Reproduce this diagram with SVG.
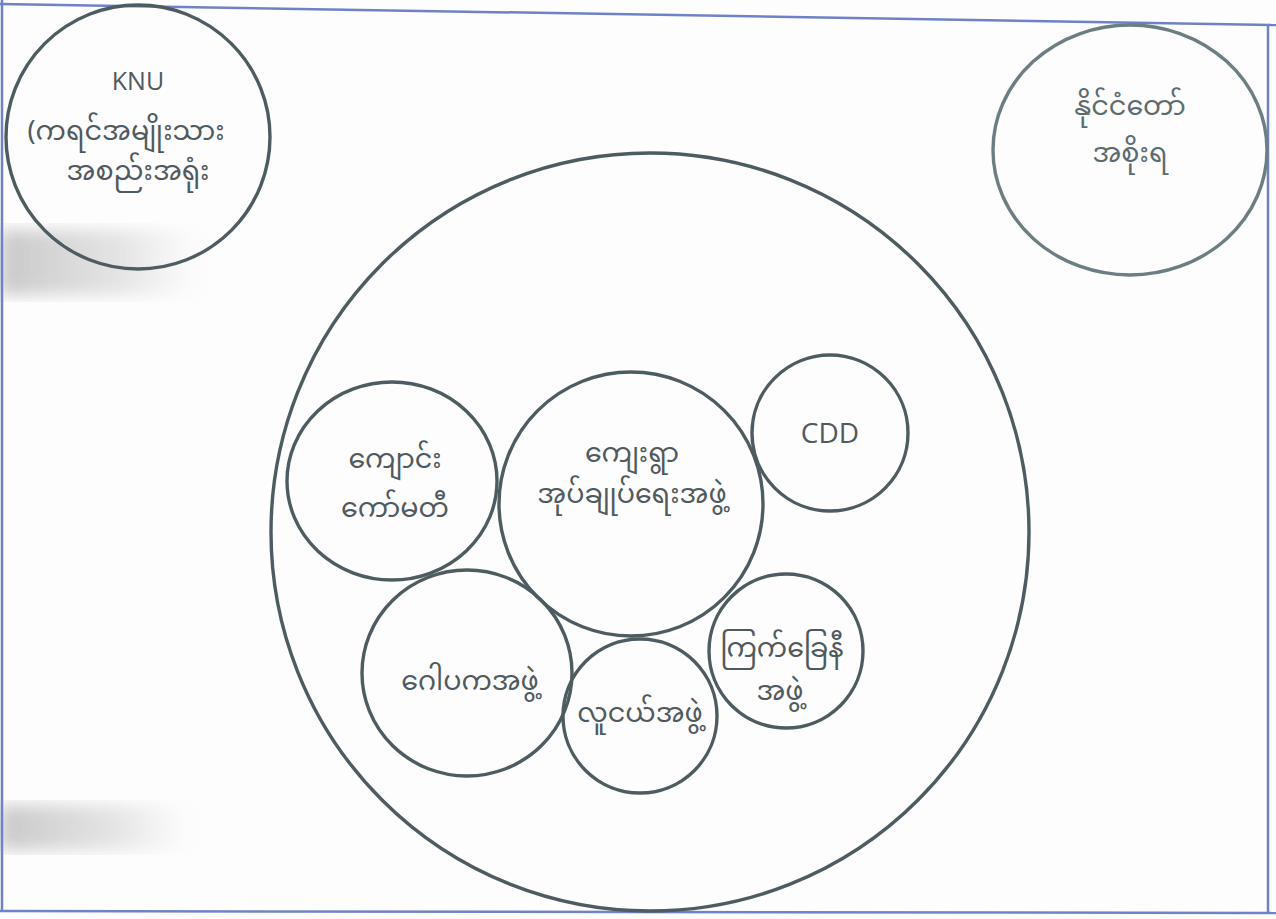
<svg xmlns="http://www.w3.org/2000/svg" width="1276" height="919" viewBox="0 0 1276 919">
<defs>
<style>
.c{fill:none;stroke:#4d5c60;stroke-width:3.4}
.cl{fill:none;stroke:#6b7f83;stroke-width:3.4}
.lat{font-family:"Open Sans","Noto Sans",sans-serif;fill:#50595d;text-anchor:middle}
.my{font-family:"Noto Sans Myanmar","Padauk","Myanmar Text","Noto Sans",sans-serif;font-size:27px;fill:#4f5a5e;text-anchor:middle}
.frame{stroke:#6f82c8;stroke-width:2.5;fill:none}
</style>
<linearGradient id="sm" x1="0" y1="0" x2="1" y2="0">
<stop offset="0" stop-color="#888" stop-opacity="0.45"/>
<stop offset="0.6" stop-color="#999" stop-opacity="0.25"/>
<stop offset="1" stop-color="#aaa" stop-opacity="0"/>
</linearGradient>
<filter id="bl"><feGaussianBlur stdDeviation="8"/></filter>
</defs>
<rect width="1276" height="919" fill="#fdfdfd"/>
<g id="scan">
<rect x="0" y="230" width="200" height="65" fill="url(#sm)" filter="url(#bl)"/>
<rect x="0" y="805" width="190" height="45" fill="url(#sm)" filter="url(#bl)"/>
<line class="frame" x1="0" y1="4" x2="1276" y2="25"/>
<line class="frame" x1="2" y1="0" x2="2" y2="912"/>
<line class="frame" x1="0" y1="911" x2="1276" y2="913"/>
<line class="frame" x1="1268" y1="24" x2="1268" y2="912"/>
</g>
<g id="knu">
<circle class="c" cx="138" cy="137" r="132"/>
<text class="lat" x="138" y="90" font-size="25">KNU</text>
<text class="my" x="126" y="140">(ကရင်အမျိုးသား</text>
<text class="my" x="138" y="180">အစည်းအရုံး</text>
</g>
<g id="gov">
<ellipse class="cl" cx="1130" cy="150" rx="137" ry="125"/>
<text class="my" x="1130" y="115" style="fill:#5b6c70">နိုင်ငံတော်</text>
<text class="my" x="1130" y="162" style="fill:#5b6c70">အစိုးရ</text>
</g>
<g id="big">
<circle class="c" cx="650" cy="532" r="379"/>
</g>
<g id="school">
<ellipse class="c" cx="392" cy="481" rx="105" ry="99"/>
<text class="my" x="395" y="468">ကျောင်း</text>
<text class="my" x="395" y="517">ကော်မတီ</text>
</g>
<g id="village">
<circle class="c" cx="631" cy="504" r="132"/>
<text class="my" x="632" y="462">ကျေးရွာ</text>
<text class="my" x="632" y="503">အုပ်ချုပ်ရေးအဖွဲ့</text>
</g>
<g id="cdd">
<circle class="c" cx="830" cy="433" r="78"/>
<text class="lat" x="830" y="443" font-size="28">CDD</text>
</g>
<g id="gopaka">
<ellipse class="c" cx="467" cy="673" rx="105" ry="103"/>
<text class="my" x="470" y="690">ဂေါပကအဖွဲ့</text>
</g>
<g id="youth">
<circle class="c" cx="640" cy="716" r="77"/>
<text class="my" x="640" y="722">လူငယ်အဖွဲ့</text>
</g>
<g id="redcross">
<circle class="c" cx="786" cy="651" r="77"/>
<text class="my" x="782" y="657">ကြက်ခြေနီ</text>
<text class="my" x="780" y="700">အဖွဲ့</text>
</g>
<g id="connectors"></g>
</svg>
